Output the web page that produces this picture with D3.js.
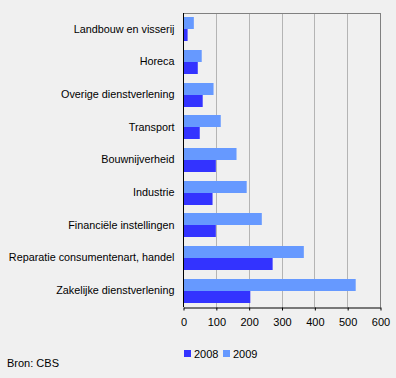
<!DOCTYPE html>
<html>
<head>
<meta charset="utf-8">
<script src="https://cdn.jsdelivr.net/npm/d3@7"></script>
<style>
  html, body { margin: 0; padding: 0; background: #f0f0f0; }
  svg { display: block; font-family: "Liberation Sans", Arial, sans-serif; }
</style>
</head>
<body>
<div class="chart"></div>
<script>
const categories = [
  "Landbouw en visserij",
  "Horeca",
  "Overige dienstverlening",
  "Transport",
  "Bouwnijverheid",
  "Industrie",
  "Financiële instellingen",
  "Reparatie consumentenart, handel",
  "Zakelijke dienstverlening",
];
const values2008 = [14, 45, 60, 51, 100, 90, 100, 273, 205];
const values2009 = [33, 57, 93, 115, 163, 194, 240, 368, 526];
const seriesNames = ["2008", "2009"];
const xTicks = [0, 100, 200, 300, 400, 500, 600];

const WIDTH = 396;
const HEIGHT = 378;
const LEFT = 183;
const RIGHT = 380;
const TOP = 13;
const BOTTOM = 307;
const COLORS = { "2008": "#3333ff", "2009": "#6699ff" };

const svg = d3.create("svg").attr("width", WIDTH).attr("height", HEIGHT);

svg.append("rect").attr("width", WIDTH).attr("height", HEIGHT).attr("fill", "#f0f0f0");

const xScale = d3.scaleLinear().domain([0, 600]).range([LEFT, RIGHT]);
const yScale = d3.scaleBand().domain(categories).range([TOP, BOTTOM]).paddingInner(0.265).paddingOuter(0.1325);
const subScale = d3.scaleBand().domain(["2009", "2008"]).range([0, yScale.bandwidth()]);

// grid
svg.append("g")
  .selectAll("line")
  .data(xTicks.slice(1))
  .join("line")
  .attr("x1", (d) => Math.round(xScale(d)) + 0.5)
  .attr("x2", (d) => Math.round(xScale(d)) + 0.5)
  .attr("y1", TOP)
  .attr("y2", BOTTOM)
  .style("stroke", (d) => (d === 600 ? "#808080" : "#b4b4b4"));

// top border
svg.append("line")
  .attr("x1", LEFT).attr("x2", RIGHT + 1)
  .attr("y1", TOP + 0.5).attr("y2", TOP + 0.5)
  .style("stroke", "#808080");

const rows = categories.map((c, i) => ({ cat: c, "2008": values2008[i], "2009": values2009[i] }));

// bars
for (let name of seriesNames) {
  svg.append("g")
    .selectAll("rect")
    .data(rows)
    .join("rect")
    .attr("x", xScale(0))
    .attr("y", (d) => Math.round(yScale(d.cat) + subScale(name)))
    .attr("width", (d) => xScale(d[name]) - xScale(0))
    .attr("height", Math.round(subScale.bandwidth()))
    .style("fill", COLORS[name]);
}

// x axis
const xAxis = d3.axisBottom(xScale).tickValues(xTicks).tickSize(3).tickSizeOuter(0);
const gx = svg.append("g")
  .attr("transform", `translate(0.5, ${BOTTOM + 0.5})`)
  .call(xAxis);
gx.select(".domain").attr("stroke", "#000");
gx.selectAll(".tick line").attr("stroke", "#000");
gx.selectAll(".tick text")
  .attr("y", 11)
  .attr("dy", "0.71em")
  .style("font-size", "11px")
  .style("fill", "#000")
  .style("font-family", "Liberation Sans, Arial, sans-serif");

// y axis
const yAxis = d3.axisLeft(yScale).tickSize(0).tickPadding(9);
const gy = svg.append("g")
  .attr("transform", `translate(${LEFT + 0.5}, 0)`)
  .call(yAxis);
gy.select(".domain").attr("stroke", "#000").attr("d", `M0,${TOP}V${BOTTOM}`);
gy.selectAll(".tick text")
  .style("font-size", "10.8px")
  .style("fill", "#000")
  .style("font-family", "Liberation Sans, Arial, sans-serif");

// legend
const legendX = d3.scalePoint().domain(seriesNames).range([184, 223]);
const legend = svg.append("g")
  .selectAll("g")
  .data(seriesNames)
  .join("g")
  .attr("transform", (d) => `translate(${legendX(d)}, 350)`);
legend.append("rect").attr("width", 7).attr("height", 7).style("fill", (d) => COLORS[d]);
legend.append("text")
  .attr("x", 10)
  .attr("y", 7.5)
  .style("font-size", "11px")
  .text((d) => d);

svg.append("text")
  .attr("x", 7)
  .attr("y", 367)
  .style("font-size", "11px")
  .text("Bron: CBS");

document.querySelector(".chart").append(svg.node());
</script>
</body>
</html>
